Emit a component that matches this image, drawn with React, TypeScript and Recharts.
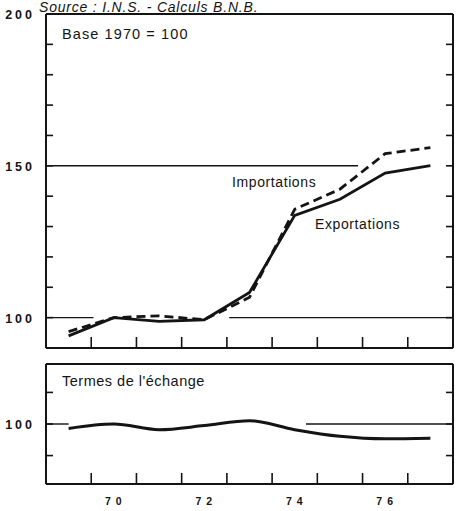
import React from "react";
import {
  LineChart, Line, XAxis, YAxis, ReferenceLine,
} from "recharts";

const ANNEES = [1969, 1970, 1971, 1972, 1973, 1974, 1975, 1976, 1977];
const EXPORTATIONS = [94, 100, 98.8, 99.3, 108.3, 133.7, 139, 147.6, 150.1];
const IMPORTATIONS = [95.4, 100, 100.6, 99.3, 106.7, 135.7, 142.3, 154, 156];
const TERMES = [98.6, 100, 98.2, 99.5, 101, 98.2, 96.1, 95.3, 95.5];

const Y_TICKS_HAUT = [100, 110, 120, 130, 140, 150, 160, 170, 180, 190, 200];
const Y_LABELS_HAUT = [100, 150, 200];
const Y_TICKS_BAS = [90, 100, 110];
const Y_LABELS_BAS = [100];
const X_TICKS = [1969.5, 1970.5, 1971.5, 1972.5, 1973.5, 1974.5, 1975.5, 1976.5];
const X_LABELS = [1970, 1972, 1974, 1976];

const haut = ANNEES.map((a, i) => ({ annee: a, exp: EXPORTATIONS[i], imp: IMPORTATIONS[i] }));
const bas = ANNEES.map((a, i) => ({ annee: a, termes: TERMES[i] }));

const FONT = "'Liberation Sans', Arial, Helvetica, sans-serif";
const INK = "#141414";

function LeftTick(labels: number[]) {
  return (p: any) => {
    const v = p.payload.value;
    return (
      <g>
        <line x1={p.x} x2={p.x + 7} y1={p.y} y2={p.y} stroke={INK} strokeWidth={1.6} />
        {labels.includes(v) && (
          <text x={p.x - 11} y={p.y + 1} textAnchor="end" dominantBaseline="central"
            fontFamily={FONT} fontWeight={700} fontSize={12.5} letterSpacing={3} fill={INK}>
            {v}
          </text>
        )}
      </g>
    );
  };
}

function RightTick(p: any) {
  return <line x1={p.x - 7} x2={p.x} y1={p.y} y2={p.y} stroke={INK} strokeWidth={1.6} />;
}

function BottomTick(p: any) {
  const v = p.payload.value;
  if (X_LABELS.includes(v)) {
    return (
      <text x={p.x + 2} y={p.y + 21} textAnchor="middle" fontFamily={FONT} fontWeight={700}
        fontSize={10.5} letterSpacing={5} fill={INK}>
        {String(v).slice(2)}
      </text>
    );
  }
  return <line x1={p.x} x2={p.x} y1={p.y} y2={p.y - 11} stroke={INK} strokeWidth={1.6} />;
}

const axisLine = { stroke: INK, strokeWidth: 2 };

function txt(left: number, top: number, size: number, s: string, extra: any = {}) {
  return (
    <div style={{
      position: "absolute", left, top, fontSize: size, lineHeight: 1, whiteSpace: "nowrap",
      fontFamily: FONT, color: INK, ...extra,
    }}>{s}</div>
  );
}

export default function App() {
  return (
    <div style={{ position: "absolute", left: 0, top: 0, width: 459, height: 511, background: "#fff", overflow: "hidden" }}>
      <div style={{ position: "absolute", left: 0, top: 0 }}>
        <LineChart width={459} height={352} data={haut} margin={{ top: 13, right: 5, left: 45, bottom: 3 }}>
          <XAxis xAxisId="b" dataKey="annee" type="number" domain={[1968.5, 1977.5]} ticks={X_TICKS}
            height={1} tickSize={0} tickMargin={0} tickLine={false} axisLine={axisLine}
            tick={(p: any) => BottomTick(p)} interval={0} allowDataOverflow />
          <XAxis xAxisId="t" orientation="top" dataKey="annee" type="number" domain={[1968.5, 1977.5]}
            height={1} tick={false} tickLine={false} axisLine={axisLine} allowDataOverflow />
          <YAxis yAxisId="l" type="number" domain={[90, 200]} ticks={Y_TICKS_HAUT} width={1}
            tickSize={0} tickMargin={0} tickLine={false} axisLine={axisLine} interval={0}
            tick={LeftTick(Y_LABELS_HAUT)} allowDataOverflow />
          <YAxis yAxisId="r" orientation="right" type="number" domain={[90, 200]} ticks={Y_TICKS_HAUT} width={1}
            tickSize={0} tickMargin={0} tickLine={false} axisLine={axisLine} interval={0}
            tick={(p: any) => RightTick(p)} allowDataOverflow />
          <ReferenceLine xAxisId="b" yAxisId="l" segment={[{ x: 1968.5, y: 150 }, { x: 1975.4, y: 150 }]}
            stroke={INK} strokeWidth={1.4} />
          <ReferenceLine xAxisId="b" yAxisId="l" segment={[{ x: 1968.5, y: 100 }, { x: 1969.55, y: 100 }]}
            stroke={INK} strokeWidth={1.4} />
          <ReferenceLine xAxisId="b" yAxisId="l" segment={[{ x: 1972.55, y: 100 }, { x: 1977.5, y: 100 }]}
            stroke={INK} strokeWidth={1.4} />
          <Line xAxisId="b" yAxisId="l" type="linear" dataKey="imp" stroke={INK} strokeWidth={2.8}
            strokeDasharray="9 5" dot={false} isAnimationActive={false} />
          <Line xAxisId="b" yAxisId="l" type="linear" dataKey="exp" stroke={INK} strokeWidth={2.8}
            dot={false} isAnimationActive={false} />
        </LineChart>
      </div>
      <div style={{ position: "absolute", left: 0, top: 352 }}>
        <LineChart width={459} height={159} data={bas} margin={{ top: 11, right: 5, left: 45, bottom: 26 }}>
          <XAxis xAxisId="b" dataKey="annee" type="number" domain={[1968.5, 1977.5]}
            ticks={[...X_TICKS, ...X_LABELS].sort((a, b) => a - b)}
            height={1} tickSize={0} tickMargin={0} tickLine={false} axisLine={axisLine}
            tick={(p: any) => BottomTick(p)} interval={0} allowDataOverflow />
          <XAxis xAxisId="t" orientation="top" dataKey="annee" type="number" domain={[1968.5, 1977.5]}
            height={1} tick={false} tickLine={false} axisLine={axisLine} allowDataOverflow />
          <YAxis yAxisId="l" type="number" domain={[81, 119]} ticks={Y_TICKS_BAS} width={1}
            tickSize={0} tickMargin={0} tickLine={false} axisLine={axisLine} interval={0}
            tick={LeftTick(Y_LABELS_BAS)} allowDataOverflow />
          <YAxis yAxisId="r" orientation="right" type="number" domain={[81, 119]} ticks={Y_TICKS_BAS} width={1}
            tickSize={0} tickMargin={0} tickLine={false} axisLine={axisLine} interval={0}
            tick={(p: any) => RightTick(p)} allowDataOverflow />
          <ReferenceLine xAxisId="b" yAxisId="l" segment={[{ x: 1968.5, y: 100 }, { x: 1969.0, y: 100 }]}
            stroke={INK} strokeWidth={1.4} />
          <ReferenceLine xAxisId="b" yAxisId="l" segment={[{ x: 1974.25, y: 100 }, { x: 1977.5, y: 100 }]}
            stroke={INK} strokeWidth={1.4} />
          <Line xAxisId="b" yAxisId="l" type="monotone" dataKey="termes" stroke={INK} strokeWidth={3}
            dot={false} isAnimationActive={false} />
        </LineChart>
      </div>
      {txt(39, 0, 14, "Source : I.N.S. - Calculs B.N.B.", { fontStyle: "italic", letterSpacing: 0.8 })}
      {txt(62, 27, 14.5, "Base 1970 = 100", { letterSpacing: 1.1 })}
      {txt(232, 175, 14, "Importations", { letterSpacing: 0.6 })}
      {txt(315, 217, 14, "Exportations", { letterSpacing: 0.6 })}
      {txt(62, 374, 14.5, "Termes de l'échange", { letterSpacing: 0.5 })}
    </div>
  );
}
